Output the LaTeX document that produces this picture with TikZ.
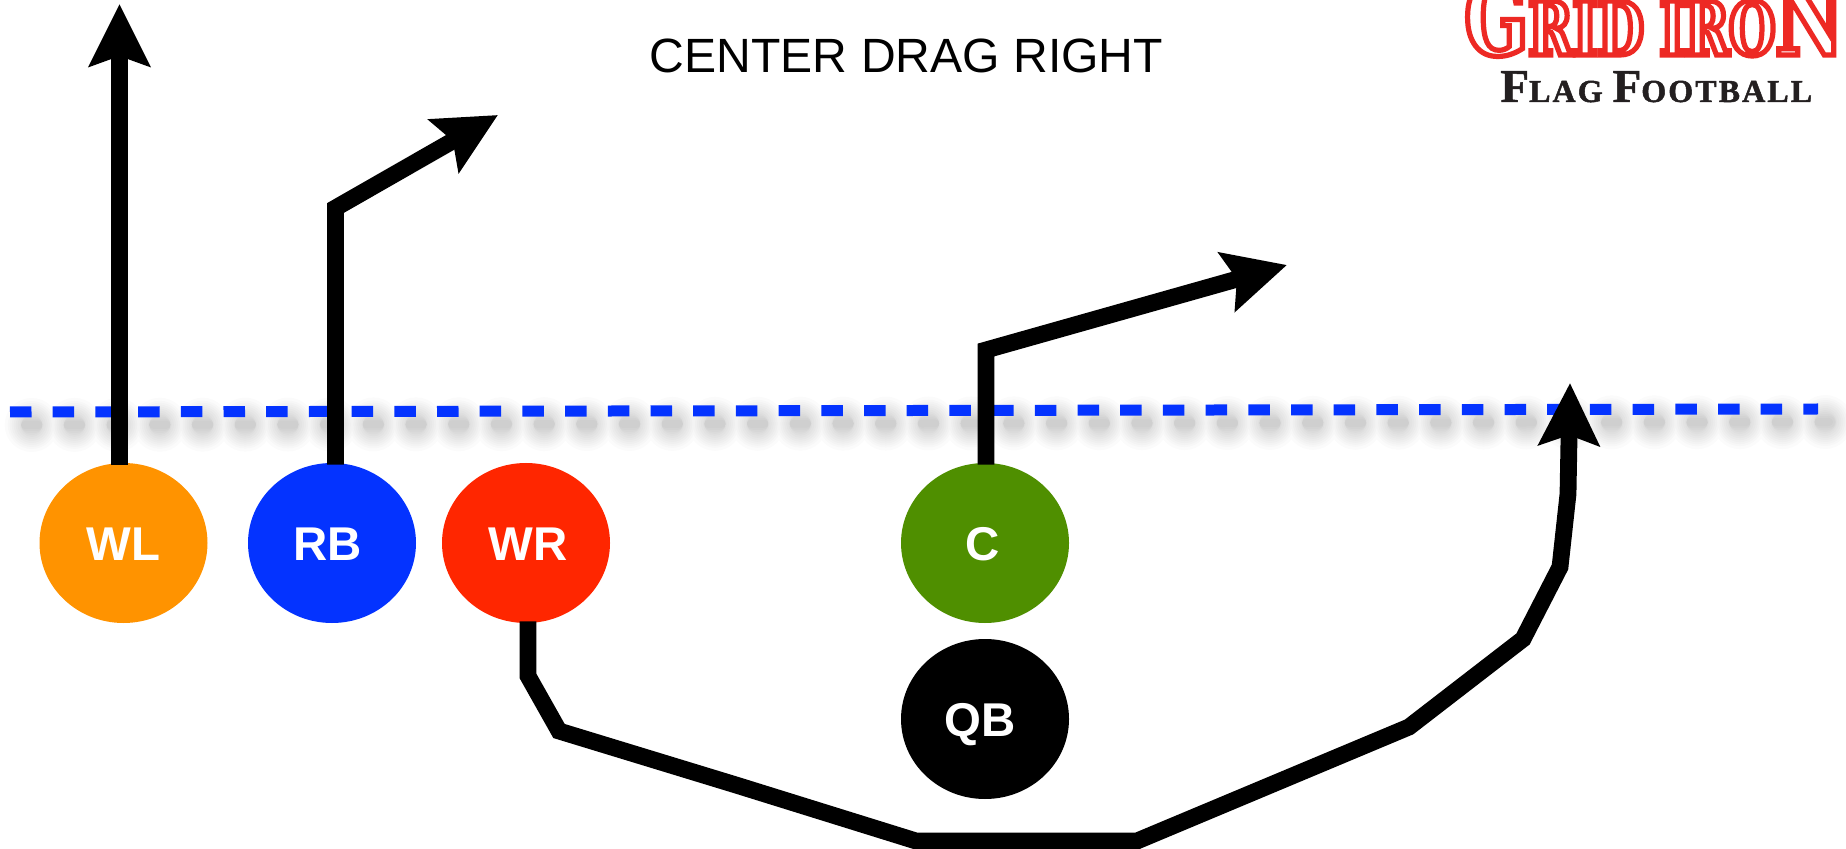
\documentclass[tikz,border=0pt]{standalone}
\usepackage{fontspec}
\setmainfont{Liberation Sans}
\newfontfamily\logoslab[FakeStretch=0.72]{DejaVu Serif Bold}
\newfontfamily\logotimes[LetterSpace=6.5]{Liberation Serif}
\usetikzlibrary{arrows.meta,shapes.geometric}
\definecolor{crayorange}{HTML}{FF9300}
\definecolor{crayblue}{HTML}{0433FF}
\definecolor{crayred}{HTML}{FF2600}
\definecolor{craygreen}{HTML}{4F8F00}
\definecolor{logored}{HTML}{EE2A24}
\definecolor{logoblack}{HTML}{231F20}
\tikzset{
  player/.style={ellipse,draw=none,fill=#1,minimum width=84pt,minimum height=80pt,inner sep=0pt,
    text=white,font=\fontsize{23.7}{23.7}\selectfont\bfseries},
  route/.style={draw=black,line width=8.4pt,line join=miter,miter limit=3,
    -{Stealth[length=31pt,width=30pt,inset=5pt]}},
  scrimmage/.style={draw=crayblue,line width=5.5pt,dash pattern=on 10.75pt off 10.6pt},
  blurred/.style={draw=black,line cap=round,draw opacity=0.016},
  waypoint/.style={inner sep=0pt,minimum size=0pt}
}
\newcommand{\flagsc}[2]{{\fontsize{23.5}{24}\selectfont #1}{\fontsize{16}{24}\selectfont #2}}
\newcommand{\playerlabel}[2]{\raisebox{-8.6pt}[0pt][0pt]{\kern#1pt #2}}
\begin{document}
\begin{tikzpicture}[x=0.5pt,y=-0.5pt]
\useasboundingbox (0,0) rectangle (1846,849);
\fill[white] (0,0) rectangle (1846,849);
% scrimmage line shadow
\coordinate (sa) at (10,412);
\coordinate (sb) at (1818,409);
\foreach \w in {4,6,8,10,12,14,16,18,20,22,24,27}{
  \pgfmathsetmacro{\on}{max(0.01,10.75-\w)}
  \pgfmathsetmacro{\off}{21.35-\on}
  \pgfmathsetmacro{\ph}{\on/2-5.375+21.35}
  \draw[blurred,line width=\w pt,dash pattern=on \on pt off \off pt,dash phase=\ph pt]
    ([shift={(5.5pt,-6.5pt)}]sa) -- ([shift={(5.5pt,-6.5pt)}]sb);
}
\draw[scrimmage] (sa) -- (sb);
% players
\node[player=crayorange] (wl) at (123.5,543) {\playerlabel{0}{WL}};
\node[player=crayblue] (rb) at (332,543) {\playerlabel{-4}{RB}};
\node[player=crayred] (wr) at (526,543) {\playerlabel{2}{WR}};
\node[player=craygreen] (c) at (985,543) {\playerlabel{-2}{C}};
\node[player=black] (qb) at (985,719) {\playerlabel{-5}{QB}};
% route ends and bends
\coordinate (wlend) at (119.5,4);
\coordinate (rbbend) at (335.5,208);
\coordinate (rbend) at (498,115);
\coordinate (cbend) at (986,350);
\coordinate (cend) at (1287,265);
\coordinate (wr1) at (528,676);
\coordinate (wr2) at (559,731);
\coordinate (wr3) at (736,785);
\coordinate (wr4) at (916,841);
\coordinate (wr5) at (1137,841);
\coordinate (wr6) at (1409,727);
\coordinate (wr7) at (1523,639);
\coordinate (wr8) at (1560,567);
\coordinate (wr9) at (1568,494);
\coordinate (wrend) at (1570,383);
% routes
\draw[route] ([shift={(-2pt,-1pt)}]wl.north) -- (wlend);
\draw[route] ([shift={(1.75pt,-1pt)}]rb.north) -- (rbbend) -- (rbend);
\draw[route] ([shift={(0.5pt,-1pt)}]c.north) -- (cbend) -- (cend);
\draw[route] ([shift={(1pt,1pt)}]wr.south) -- (wr1) -- (wr2) -- (wr3) -- (wr4) -- (wr5) -- (wr6) -- (wr7) -- (wr8) -- (wr9) -- (wrend);
% title
\node[font=\fontsize{24.05}{26}\selectfont,anchor=center,inner sep=0pt] (title) at (906.5,56) {CENTER DRAG RIGHT};
% logo
\node[anchor=base west,inner sep=0pt] (gridiron) at (1464,55) {\special{pdf:code 2 Tr 2.6 w 0.93 0.16 0.14 RG 1 1 1 rg}\logoslab
  {\fontsize{52}{52}\selectfont G}{\fontsize{37}{37}\selectfont RID\hspace{8pt}IRO}{\fontsize{52}{52}\selectfont N}\special{pdf:code 0 Tr 1 w}};
\node[anchor=base west,inner sep=0pt,text=logoblack] (flag) at (1500,102) {\special{pdf:code 2 Tr 0.25 w 0.137 0.122 0.125 RG}\logotimes\bfseries
  \flagsc{F}{LAG}\hspace{5pt}\flagsc{F}{OOTBALL}\special{pdf:code 0 Tr 1 w}};
\end{tikzpicture}
\end{document}
